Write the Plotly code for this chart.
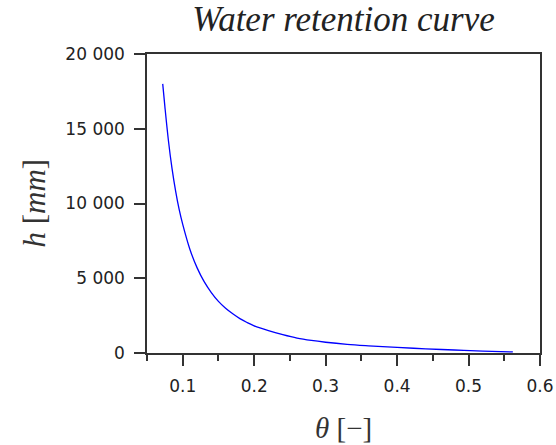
import plotly.graph_objects as go

# Water content theta [-] and pressure head h [mm]
theta = [0.072, 0.075, 0.080, 0.085, 0.090, 0.095, 0.100, 0.110, 0.120, 0.130,
         0.140, 0.150, 0.160, 0.170, 0.180, 0.190, 0.200, 0.220, 0.240, 0.260,
         0.280, 0.300, 0.330, 0.360, 0.400, 0.440, 0.480, 0.520, 0.562]
head = [18000, 16500, 14200, 12350, 10850, 9600, 8600, 6940, 5710, 4770,
        4040, 3450, 2990, 2620, 2300, 2040, 1820, 1500, 1230, 1000,
        840, 720, 580, 480, 370, 280, 200, 130, 70]

x_ticks = [0.1, 0.2, 0.3, 0.4, 0.5, 0.6]
y_ticks = [0, 5000, 10000, 15000, 20000]
y_tick_text = ["0", "5 000", "10 000", "15 000", "20 000"]

fig = go.Figure()
fig.add_trace(go.Scatter(
    x=theta, y=head, mode="lines", line=dict(color="#0000ff", width=1.3, shape="spline"),
    showlegend=False, hoverinfo="skip"))

axis_common = dict(
    showline=True, linecolor="#333333", linewidth=1.5, mirror=True,
    showgrid=False, zeroline=False, ticks="outside", tickcolor="#333333",
    tickwidth=1.5, tickfont=dict(family="DejaVu Sans", size=17, color="#222222"),
)

fig.update_xaxes(
    range=[0.05, 0.6], tickvals=x_ticks, ticklen=11, ticklabelstandoff=6,
    minor=dict(dtick=0.05, tick0=0.05, ticks="outside", ticklen=6, tickcolor="#333333", tickwidth=1.5),
    **axis_common)
fig.update_yaxes(
    range=[0, 20000], tickvals=y_ticks, ticktext=y_tick_text, ticklen=11,
    ticklabelstandoff=6, **axis_common)

fig.update_layout(
    width=556, height=445,
    margin=dict(l=147, r=16, t=54, b=92, autoexpand=False),
    plot_bgcolor="white", paper_bgcolor="white", hovermode=False,
    title=dict(text="<i>Water retention curve</i>", xref="paper", x=0.5, xanchor="center",
               yref="container", y=1 - 19 / 445, yanchor="middle",
               font=dict(family="Liberation Serif", size=35, color="#222222")),
    annotations=[
        dict(text="<i>θ</i> [−]", xref="paper", yref="paper", x=0.5, y=0,
             xanchor="center", yanchor="middle", yshift=-75, showarrow=False,
             font=dict(family="Liberation Serif", size=29, color="#333333")),
        dict(text="<i>h</i> [<i>mm</i>]", xref="paper", yref="paper", x=0, y=0.5,
             xanchor="center", yanchor="middle", xshift=-113, textangle=-90, showarrow=False,
             font=dict(family="Liberation Serif", size=31, color="#333333")),
    ],
)

fig.write_html("out.html", config={"displayModeBar": False},
               post_script="document.body.style.margin='0';")
